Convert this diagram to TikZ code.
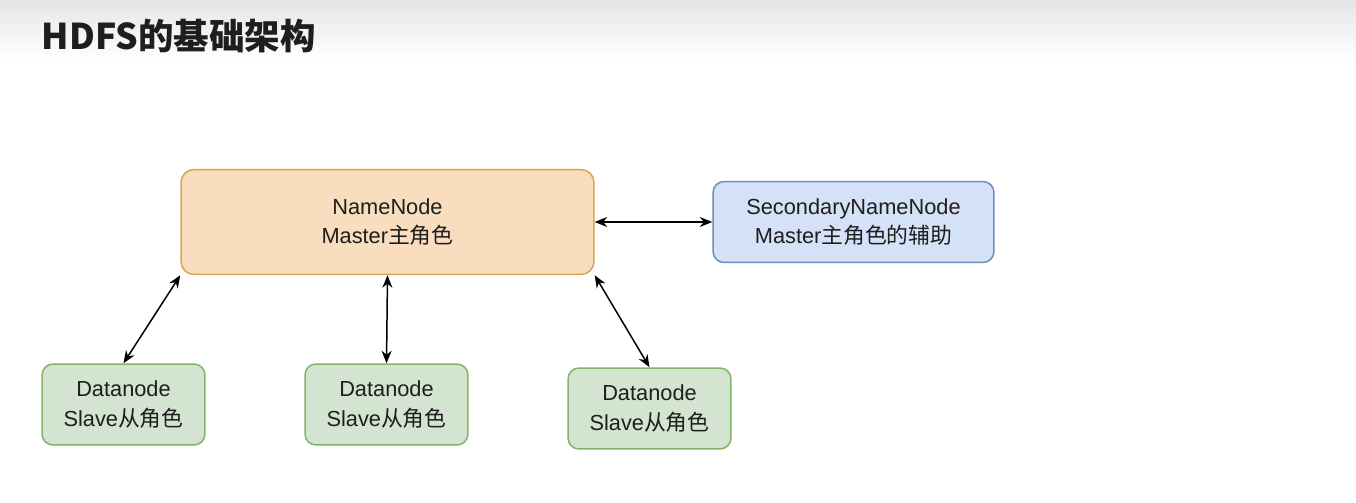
\documentclass[tikz,border=0pt]{standalone}
\usepackage{fontspec}
\setmainfont{Liberation Sans}
\newfontfamily\cjk{Noto Sans CJK SC}
\usetikzlibrary{arrows.meta}
\definecolor{nnfill}{HTML}{F8DDBF}
\definecolor{nnline}{HTML}{D6A650}
\definecolor{snnfill}{HTML}{D5E1F6}
\definecolor{snnline}{HTML}{6C8EBF}
\definecolor{dnfill}{HTML}{D3E5D0}
\definecolor{dnline}{HTML}{82B366}
\definecolor{txt}{HTML}{1E1E1E}
\begin{document}
\begin{tikzpicture}[x=0.02cm,y=-0.02cm,>={Stealth[length=2.5mm,width=2mm]},line width=0.85pt,
  box/.style={draw,rounded corners=0.22cm,line width=0.85pt,align=center,inner sep=0pt,text=txt,font=\fontsize{12.4}{16.6}\selectfont},
  dnbox/.style={box,fill=dnfill,draw=dnline,minimum width=3.26cm,minimum height=1.62cm}]
\useasboundingbox (0,0) rectangle (1356,503);
\shade[top color=black!10,bottom color=white] (0,0) rectangle (1356,60);
\node[anchor=west,inner sep=0pt,text=txt,font=\cjk\bfseries\fontsize{20.2}{24}\selectfont] (title) at (41,36) {HDFS的基础架构};
\node[box,fill=nnfill,draw=nnline,minimum width=8.26cm,minimum height=2.1cm,rounded corners=0.26cm] (nn) at (387.5,222) {NameNode\\Master{\cjk 主角色}};
\node[box,fill=snnfill,draw=snnline,minimum width=5.62cm,minimum height=1.62cm] (snn) at (853.5,222) {SecondaryNameNode\\Master{\cjk 主角色的辅助}};
\node[dnbox] (dn1) at (123.5,404.5) {Datanode\\Slave{\cjk 从角色}};
\node[dnbox] (dn2) at (386.5,404.5) {Datanode\\Slave{\cjk 从角色}};
\node[dnbox] (dn3) at (649.5,408.5) {Datanode\\Slave{\cjk 从角色}};
\path[<->]
  (nn.east) edge (snn.west)
  (nn.south west) edge (dn1.north)
  (nn.south) edge (dn2.north)
  (nn.south east) edge (dn3.north);
\end{tikzpicture}
\end{document}
